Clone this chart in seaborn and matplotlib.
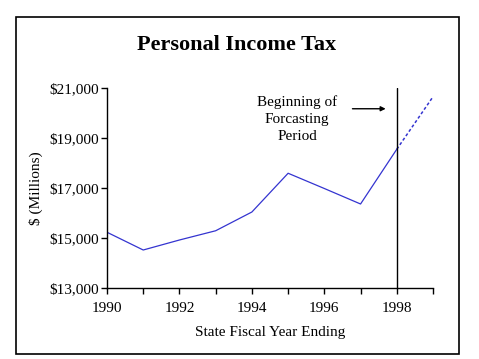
import matplotlib
matplotlib.use("Agg")
import matplotlib.pyplot as plt
import seaborn as sns
import pandas as pd
from matplotlib.patches import Rectangle

years = [1990, 1991, 1992, 1993, 1994, 1995, 1996, 1997, 1998]
revenue = [15230, 14520, 14920, 15290, 16040, 17590, 16980, 16360, 18550]
forecast_years = [1998, 1999]
forecast_revenue = [18550, 20650]
y_ticks = [13000, 15000, 17000, 19000, 21000]
x_ticks = [1990, 1992, 1994, 1996, 1998]

sns.set_style("white")
plt.rcParams['font.family'] = ['Liberation Serif', 'DejaVu Serif']
plt.rcParams['text.color'] = 'black'
plt.rcParams['axes.labelcolor'] = 'black'
plt.rcParams['xtick.color'] = 'black'
plt.rcParams['ytick.color'] = 'black'

fig = plt.figure(figsize=(4.79, 3.59), dpi=100)
ax = fig.add_axes([107/479, 1-288/359, (433-107)/479, (288-88)/359])

hist = pd.DataFrame({"year": years, "value": revenue})
fc = pd.DataFrame({"year": forecast_years, "value": forecast_revenue})
line_color = "#3434d0"
sns.lineplot(data=hist, x="year", y="value", ax=ax, color=line_color, linewidth=0.9)
sns.lineplot(data=fc, x="year", y="value", ax=ax, color=line_color, linewidth=1.1,
             linestyle=(0, (2, 1.5)))

ax.axvline(1998, color="black", linewidth=1.0)

ax.set_xlim(1990, 1999)
ax.set_ylim(13000, 21000)
ax.set_xticks(x_ticks)
ax.set_xticks(list(range(1990, 2000)), minor=True)
ax.set_yticks(y_ticks)
ax.set_yticklabels([f"${v:,}" for v in y_ticks])
ax.tick_params(axis="both", which="both", direction="out", length=4, width=1,
               color="black", labelsize=11, labelcolor="black",
               bottom=True, left=True)
ax.tick_params(axis="x", which="major", pad=6)
ax.tick_params(axis="y", which="major", pad=2)
for s in ["top", "right"]:
    ax.spines[s].set_visible(False)
for s in ["left", "bottom"]:
    ax.spines[s].set_color("black")
    ax.spines[s].set_linewidth(1.0)

ax.set_xlabel("State Fiscal Year Ending", fontsize=11, labelpad=8)
ax.set_ylabel("$ (Millions)", fontsize=11, labelpad=4)

ax.text(1995.25, 20720, "Beginning of\nForcasting\nPeriod", ha="center", va="top",
        fontsize=11, linespacing=1.4)
ax.annotate("", xy=(1997.77, 20170), xytext=(1996.7, 20170),
            arrowprops=dict(arrowstyle="-|>", color="black", lw=1.0, mutation_scale=7))

fig.text(237/479, 1-45/359, "Personal Income Tax", ha="center", va="center",
         fontsize=16, fontweight="bold")

fig.patches.append(Rectangle((16/479, 1-354/359), (459-16)/479, (354-17)/359,
                             transform=fig.transFigure, fill=False,
                             edgecolor="black", linewidth=1.2))

fig.savefig("out.png", dpi=100)
